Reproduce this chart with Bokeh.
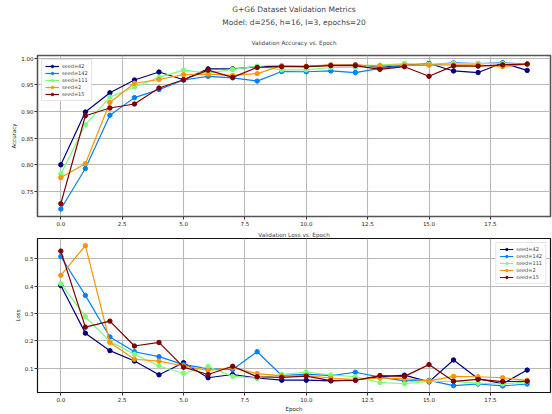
from bokeh.plotting import figure
from bokeh.layouts import column
from bokeh.models import Range1d, FixedTicker, PrintfTickFormatter, Title
from bokeh.embed import file_html
from bokeh.resources import INLINE

epochs = list(range(20))
seed_labels = ["seed=42", "seed=142", "seed=111", "seed=2", "seed=15"]
colors = ["#00007f", "#0080ff", "#7bff7b", "#ff9400", "#7f0000"]

acc_42 = [0.800, 0.899, 0.935, 0.959, 0.974, 0.9595, 0.980, 0.980, 0.984, 0.985,
          0.984, 0.987, 0.9875, 0.9825, 0.987, 0.990, 0.976, 0.973, 0.991, 0.977]
acc_142 = [0.717, 0.793, 0.893, 0.926, 0.941, 0.959, 0.966, 0.963, 0.957, 0.975,
           0.9745, 0.976, 0.973, 0.981, 0.986, 0.9875, 0.991, 0.990, 0.991, 0.989]
acc_111 = [0.7825, 0.875, 0.927, 0.946, 0.964, 0.9775, 0.972, 0.979, 0.985, 0.978,
           0.978, 0.9825, 0.9825, 0.987, 0.990, 0.989, 0.990, 0.990, 0.990, 0.989]
acc_2 = [0.776, 0.802, 0.917, 0.953, 0.960, 0.969, 0.970, 0.9676, 0.971, 0.9857,
         0.985, 0.9875, 0.987, 0.986, 0.9875, 0.987, 0.9875, 0.9875, 0.984, 0.989]
acc_15 = [0.727, 0.892, 0.9065, 0.914, 0.944, 0.9595, 0.9775, 0.964, 0.9825, 0.984,
          0.984, 0.986, 0.986, 0.979, 0.984, 0.966, 0.9855, 0.985, 0.9875, 0.989]

loss_42 = [0.402, 0.228, 0.164, 0.126, 0.0756, 0.120, 0.065, 0.0767, 0.064, 0.056,
           0.056, 0.0535, 0.057, 0.0686, 0.0744, 0.050, 0.130, 0.0616, 0.043, 0.093]
loss_142 = [0.508, 0.366, 0.214, 0.160, 0.142, 0.113, 0.098, 0.0953, 0.160, 0.073,
            0.078, 0.073, 0.085, 0.0674, 0.0535, 0.0556, 0.036, 0.042, 0.035, 0.042]
loss_111 = [0.409, 0.288, 0.198, 0.151, 0.108, 0.0814, 0.106, 0.070, 0.063, 0.0767,
            0.086, 0.0756, 0.0686, 0.0477, 0.043, 0.052, 0.052, 0.045, 0.042, 0.050]
loss_2 = [0.4395, 0.548, 0.194, 0.1326, 0.1256, 0.108, 0.092, 0.102, 0.080, 0.072,
          0.073, 0.064, 0.058, 0.064, 0.0616, 0.0535, 0.070, 0.0686, 0.065, 0.0556]
loss_15 = [0.528, 0.250, 0.272, 0.181, 0.194, 0.1035, 0.0767, 0.107, 0.0686, 0.0663,
           0.071, 0.0547, 0.0556, 0.073, 0.070, 0.113, 0.052, 0.059, 0.051, 0.052]

acc_series = [acc_42, acc_142, acc_111, acc_2, acc_15]
loss_series = [loss_42, loss_142, loss_111, loss_2, loss_15]

x_ticks = [0, 2.5, 5, 7.5, 10, 12.5, 15, 17.5]
acc_ticks = [0.75, 0.80, 0.85, 0.90, 0.95, 1.00]
loss_ticks = [0.1, 0.2, 0.3, 0.4, 0.5]

FONT = "DejaVu Sans"


def style(p, yticks, yfmt, ylabel, outline_color, outline_width):
    p.xaxis.ticker = FixedTicker(ticks=x_ticks)
    p.xaxis.formatter = PrintfTickFormatter(format="%.1f")
    p.yaxis.ticker = FixedTicker(ticks=yticks)
    p.yaxis.formatter = PrintfTickFormatter(format=yfmt)
    p.yaxis.axis_label = ylabel
    for ax in (p.xaxis[0], p.yaxis[0]):
        ax.major_label_text_font = FONT
        ax.major_label_text_font_size = "5.5px"
        ax.major_label_text_color = "#222222"
        ax.axis_label_text_font = FONT
        ax.axis_label_text_font_size = "5.5px"
        ax.axis_label_text_font_style = "normal"
        ax.axis_label_text_color = "#222222"
        ax.axis_label_standoff = 1
        ax.major_label_standoff = 1
        ax.major_tick_out = 3
        ax.major_tick_in = 0
        ax.minor_tick_out = 0
        ax.minor_tick_in = 0
        ax.axis_line_color = None
        ax.major_tick_line_color = "#333333"
    p.grid.grid_line_color = "#b8b8b8"
    p.grid.grid_line_width = 1.1
    p.outline_line_color = outline_color
    p.outline_line_width = outline_width
    p.background_fill_color = "white"
    p.border_fill_color = "white"


def add_series(p, series):
    for lab, col, ys in zip(seed_labels, colors, series):
        p.line(epochs, ys, line_color=col, line_width=1.2, legend_label=lab)
        p.scatter(epochs, ys, marker="circle", size=4.4, fill_color=col,
                  line_color=col, legend_label=lab)


def style_legend(p, loc):
    lg = p.legend[0]
    lg.location = loc
    lg.label_text_font = FONT
    lg.label_text_font_size = "5px"
    lg.label_height = 6
    lg.glyph_height = 6
    lg.glyph_width = 14
    lg.label_standoff = 3
    lg.spacing = 1
    lg.padding = 3
    lg.margin = 4
    lg.border_line_color = "#cccccc"
    lg.border_line_width = 1
    lg.background_fill_alpha = 0.9


# --- Accuracy figure ---
p1 = figure(width=552, height=228, output_backend="svg", toolbar_location=None,
            x_range=Range1d(-0.95, 19.95), y_range=Range1d(0.703, 1.005),
            min_border_left=37, min_border_right=2, min_border_top=55,
            min_border_bottom=12)
p1.add_layout(Title(text="Validation Accuracy vs. Epoch", align="center",
                    text_font=FONT, text_font_size="5.7px",
                    text_font_style="normal", standoff=20,
                    vertical_align="bottom"), "above")
p1.add_layout(Title(text="Model: d=256, h=16, l=3, epochs=20", align="center",
                    text_font=FONT, text_font_size="7.5px",
                    text_font_style="normal", standoff=1), "above")
p1.add_layout(Title(text="G+G6 Dataset Validation Metrics", align="center",
                    text_font=FONT, text_font_size="7.5px",
                    text_font_style="normal", standoff=4), "above")
add_series(p1, acc_series)
style(p1, acc_ticks, "%.2f", "Accuracy", "#555555", 1.6)
style_legend(p1, "top_left")

# --- Loss figure ---
p2 = figure(width=552, height=186, output_backend="svg", toolbar_location=None,
            x_range=Range1d(-0.95, 19.95), y_range=Range1d(0.011, 0.574),
            min_border_left=37, min_border_right=2, min_border_top=10,
            min_border_bottom=15)
p2.add_layout(Title(text="Validation Loss vs. Epoch", align="center",
                    text_font=FONT, text_font_size="5.7px",
                    text_font_style="normal", standoff=2), "above")
add_series(p2, loss_series)
style(p2, loss_ticks, "%.1f", "Loss", "#111111", 1.2)
p2.xaxis.axis_label = "Epoch"
style_legend(p2, "top_right")

layout = column(p1, p2, spacing=0)
open("out.html", "w").write(file_html(layout, INLINE))
